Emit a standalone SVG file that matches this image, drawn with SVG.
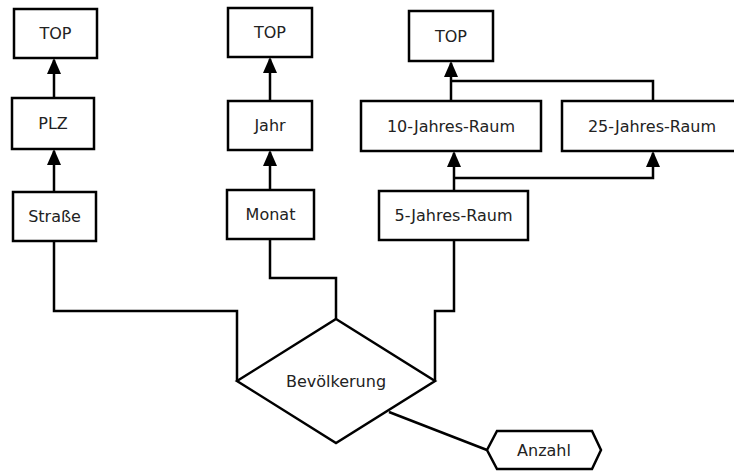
<svg xmlns="http://www.w3.org/2000/svg" width="734" height="472" viewBox="0 0 734 472">
<defs>
<style>
.n{fill:#fff;stroke:#000;stroke-width:2.5}
.t{font-family:"DejaVu Sans",sans-serif;font-size:16px;fill:#222;text-anchor:middle;dominant-baseline:central}
.c{fill:none;stroke:#000;stroke-width:2.5}
.a{fill:#000}
</style>
</defs>
<rect width="734" height="472" fill="#fff"/>
<g id="connectors">
<line class="c" x1="54" y1="192" x2="54" y2="151"/>
<line class="c" x1="54" y1="98" x2="54" y2="60"/>
<line class="c" x1="270" y1="190" x2="270" y2="152"/>
<line class="c" x1="270" y1="101" x2="270" y2="59"/>
<line class="c" x1="451" y1="101" x2="451" y2="63"/>
<polyline class="c" points="653,101 653,81 451,81"/>
<line class="c" x1="454" y1="191" x2="454" y2="153"/>
<polyline class="c" points="454,178 653,178 653,153"/>
<polyline class="c" points="54,241 54,311 237,311 237,380"/>
<polyline class="c" points="270,239 270,278 336,278 336,319"/>
<polyline class="c" points="454,240 454,311 435,311 435,380"/>
<line class="c" x1="389" y1="412" x2="487" y2="450"/>
<path class="a" d="M54,58 L61,74 L47,74 Z"/>
<path class="a" d="M54,149 L61,165 L47,165 Z"/>
<path class="a" d="M270,57 L277,73 L263,73 Z"/>
<path class="a" d="M270,150 L277,166 L263,166 Z"/>
<path class="a" d="M451,61 L458,77 L444,77 Z"/>
<path class="a" d="M454,151 L461,167 L447,167 Z"/>
<path class="a" d="M653,151 L660,167 L646,167 Z"/>
</g>
<g id="top1"><rect class="n" x="14" y="9" width="83" height="49"/><text class="t" x="55.5" y="33.5">TOP</text></g>
<g id="plz"><rect class="n" x="12" y="98" width="82" height="51"/><text class="t" x="53" y="123.5">PLZ</text></g>
<g id="strasse"><rect class="n" x="13" y="192" width="83" height="49"/><text class="t" x="54.5" y="216.5">Straße</text></g>
<g id="top2"><rect class="n" x="228" y="8" width="84" height="49"/><text class="t" x="270" y="32.5">TOP</text></g>
<g id="jahr"><rect class="n" x="228" y="101" width="84" height="49"/><text class="t" x="270" y="125.5">Jahr</text></g>
<g id="monat"><rect class="n" x="227" y="190" width="87" height="49"/><text class="t" x="270.5" y="214.5">Monat</text></g>
<g id="top3"><rect class="n" x="409" y="11" width="84" height="50"/><text class="t" x="451" y="36">TOP</text></g>
<g id="j10"><rect class="n" x="361" y="101" width="180" height="50"/><text class="t" x="451" y="126">10-Jahres-Raum</text></g>
<g id="j25"><rect class="n" x="562" y="101" width="180" height="50"/><text class="t" x="652" y="126">25-Jahres-Raum</text></g>
<g id="j5"><rect class="n" x="379" y="191" width="149" height="49"/><text class="t" x="453.5" y="215.5">5-Jahres-Raum</text></g>
<g id="bevoelkerung"><polygon class="n" points="336,319 435,381 336,443 237,381"/><text class="t" x="336" y="381">Bevölkerung</text></g>
<g id="anzahl"><polygon class="n" points="487,450 497,431 592,431 601,450 592,469 497,469"/><text class="t" x="544" y="450">Anzahl</text></g>
</svg>
